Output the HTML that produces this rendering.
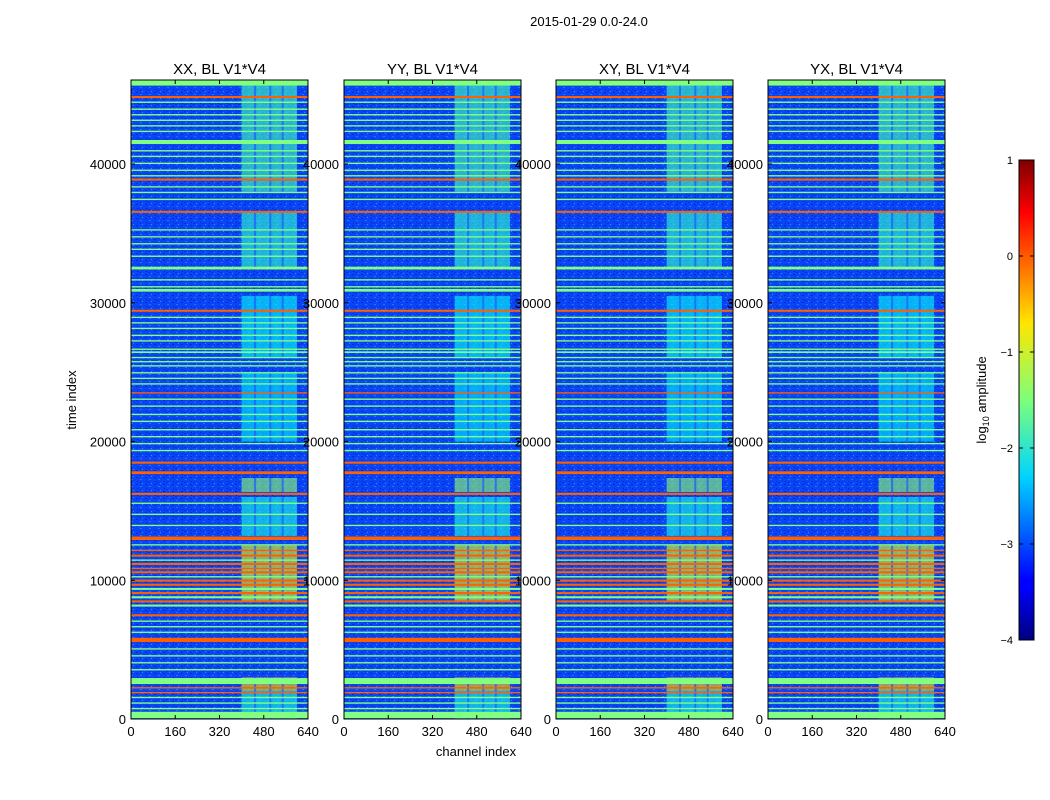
<!DOCTYPE html>
<html><head><meta charset="utf-8"><style>
body{margin:0;background:#fff;}
svg{display:block;font-family:"Liberation Sans",sans-serif;}
</style></head><body>
<svg id="fig" width="1050" height="800" xmlns="http://www.w3.org/2000/svg">
<defs>
<pattern id="noise" width="9" height="7" patternUnits="userSpaceOnUse">
<rect width="9" height="7" fill="#0a44f4"/>
<rect x="1" y="1" width="2" height="1" fill="#0028d8"/>
<rect x="5" y="3" width="2" height="1" fill="#1a78ff"/>
<rect x="2" y="5" width="1" height="1" fill="#0020c0"/>
<rect x="7" y="0" width="1" height="1" fill="#2a90ff"/>
<rect x="4" y="6" width="2" height="1" fill="#0034e0"/>
</pattern>
<linearGradient id="jet" x1="0" y1="1" x2="0" y2="0">
<stop offset="0" stop-color="#00007f"/><stop offset="0.11" stop-color="#0000ff"/>
<stop offset="0.125" stop-color="#0000ff"/><stop offset="0.34" stop-color="#00d4ff"/>
<stop offset="0.5" stop-color="#7dff7a"/><stop offset="0.66" stop-color="#ffe600"/>
<stop offset="0.89" stop-color="#ff0000"/><stop offset="1" stop-color="#7f0000"/>
</linearGradient>
</defs>
<text x="589" y="26" font-size="13" text-anchor="middle">2015-01-29 0.0-24.0</text>
<g id="panels"></g>
<text transform="translate(76,400) rotate(-90)" font-size="13" text-anchor="middle">time index</text>
<text x="476" y="756" font-size="13" text-anchor="middle">channel index</text>
<g>
<rect x="1019" y="160" width="15" height="480" fill="url(#jet)" stroke="#000" stroke-width="1"/>
<g id="cbticks"></g>
<text transform="translate(986,400) rotate(-90)" font-size="13" text-anchor="middle">log<tspan font-size="9" dy="3">10</tspan><tspan dy="-3"> amplitude</tspan></text>
</g>
</svg>
<script>
const titles=["XX, BL V1*V4","YY, BL V1*V4","XY, BL V1*V4","YX, BL V1*V4"];
const panelX=[131,344,556,768];
const xTicks=[0,160,320,480,640];
const yTicks=[0,10000,20000,30000,40000];
const cbTicks=[1,0,-1,-2,-3,-4];
// horizontal bands: start time, end time, log10 amplitude
const bandStart=[45650,44750,44400,43900,43500,43100,42700,42300,41440,40900,40500,40000,39500,39100,38800,38300,37900,37400,36480,35200,34700,34200,33800,33300,32400,31600,31100,30800,29350,28900,28500,28100,27600,27200,26600,26380,26000,25700,25400,24900,24500,24100,23450,23000,22500,21900,21400,20800,20300,19800,19300,18400,17650,16150,15500,14700,13900,12900,12500,12100,11700,11400,11100,10800,10500,10200,9900,9600,9300,9000,8700,8400,8100,7400,7000,6600,6200,5550,5000,4500,4000,3500,2520,2200,1850,1500,1100,700,60];
const bandEnd=  [46050,44900,44500,44000,43600,43200,42800,42400,41730,41000,40600,40100,39600,39200,38950,38400,38000,37500,36620,35300,34800,34300,33900,33400,32600,31700,31200,31000,29500,29000,28600,28200,27700,27300,26700,26500,26100,25800,25500,25000,24600,24200,23550,23100,22600,22000,21500,20900,20400,19900,19400,18550,17850,16300,15600,14800,14000,13150,12600,12200,11850,11500,11250,10900,10650,10300,10050,9750,9450,9150,8850,8550,8250,7550,7100,6700,6300,5850,5100,4600,4100,3600,2950,2300,1950,1600,1200,800,520];
const bandVal=  [-1.5,-0.1,-1.5,-1.5,-1.5,-1.5,-1.5,-1.5,-1.5,-1.5,-1.5,-1.5,-1.5,-1.5,-0.1,-1.5,-1.5,-1.5,-0.1,-1.5,-1.5,-1.5,-1.5,-1.5,-1.5,-1.5,-1.5,-1.5,-0.1,-1.5,-1.5,-1.5,-1.5,-1.5,-1.5,-1.5,-1.5,-1.5,-1.5,-1.5,-1.5,-1.5,-0.1,-1.5,-1.5,-1.5,-1.5,-1.5,-1.5,-1.5,-1.5,-0.1,-0.1,-0.1,-1.5,-1.5,-1.5,-0.1,-1.5,-0.1,-0.1,-1.5,-0.1,-0.1,-0.1,-1.5,-0.1,-0.1,-1.5,-0.1,-1.5,-0.1,-1.5,-0.1,-1.5,-1.5,-1.5,-0.1,-1.5,-1.5,-1.5,-1.5,-1.5,-0.1,-0.1,-1.5,-1.5,-1.5,-1.5];
// RFI region segments: time ranges and level
const rfiStart=[38000,32500,26000,20000,16360,13200,8500,2000,0];
const rfiEnd=  [46000,36500,30500,25000,17370,16000,12500,3000,2000];
const rfiVal=  [-1.8,-1.9,-2.1,-2.2,-1.4,-2.0,-1.0,-0.7,-2.0];
const rfiChanStart=400, rfiChanEnd=600;

function jet(v){const f=(v+4)/5;const c=x=>Math.round(255*Math.max(0,Math.min(1,x)));
return `rgb(${c(1.5-Math.abs(4*f-3))},${c(1.5-Math.abs(4*f-2))},${c(1.5-Math.abs(4*f-1))})`;}
const NS="http://www.w3.org/2000/svg";
function mk(tag,attrs,parent){const e=document.createElementNS(NS,tag);for(const k in attrs)e.setAttribute(k,attrs[k]);parent.appendChild(e);return e;}
const Y0=719,Y1=80,TMAX=(719-80)*40000/555,W=177;
const yS=t=>Y0-(t/TMAX)*(Y0-Y1);
const root=document.getElementById('panels');
panelX.forEach((px,i)=>{
  const xS=c=>px+c/640*W;
  const g=mk('g',{},root);
  
  
  const bg=mk('rect',{x:px,y:Y1,width:W,height:Y0-Y1,fill:'url(#noise)'},g);
  
  
  for(let k=0;k<rfiStart.length;k++){
    const r=mk('rect',{x:xS(rfiChanStart),y:yS(rfiEnd[k]),width:xS(rfiChanEnd)-xS(rfiChanStart),height:yS(rfiStart[k])-yS(rfiEnd[k]),fill:jet(rfiVal[k]),opacity:0.6},g);
    
    
    [445,500,545].forEach(c=>{mk('rect',{x:xS(c),y:yS(rfiEnd[k]),width:2,height:yS(rfiStart[k])-yS(rfiEnd[k]),fill:'#1a5cff',opacity:0.7},g);});
  }
  for(let k=0;k<bandStart.length;k++){
    const h=Math.max(1.2,yS(bandStart[k])-yS(bandEnd[k]));
    const r=mk('rect',{x:px,y:yS(bandEnd[k]),width:W,height:h,fill:jet(bandVal[k])},g);
    
    
  }
  mk('rect',{x:px,y:Y1,width:W,height:Y0-Y1,fill:'none',stroke:'#000','stroke-width':1},g);
  const t=mk('text',{x:px+W/2,y:74,'font-size':15,'text-anchor':'middle'},g);t.textContent=titles[i];
  
  
  xTicks.forEach(v=>{const x=xS(v);
    mk('line',{x1:x,x2:x,y1:Y0,y2:Y0-4,stroke:'#000'},g);mk('line',{x1:x,x2:x,y1:Y1,y2:Y1+4,stroke:'#000'},g);
    const l=mk('text',{x:x,y:Y0+17,'font-size':13,'text-anchor':'middle'},g);l.textContent=v;
    
    });
  yTicks.forEach(v=>{const y=yS(v);
    mk('line',{x1:px,x2:px+4,y1:y,y2:y,stroke:'#000'},g);mk('line',{x1:px+W,x2:px+W-4,y1:y,y2:y,stroke:'#000'},g);
    const l=mk('text',{x:px-5,y:y+5,'font-size':13,'text-anchor':'end'},g);l.textContent=v;
    
    });
});
const cb=document.getElementById('cbticks');
cbTicks.forEach(v=>{const y=160+(1-v)/5*480;
  mk('line',{x1:1019,x2:1023,y1:y,y2:y,stroke:'#000'},cb);mk('line',{x1:1030,x2:1034,y1:y,y2:y,stroke:'#000'},cb);
  const l=mk('text',{x:1013,y:y+4,'font-size':11,'text-anchor':'end'},cb);l.textContent=v<0?'\u2212'+(-v):v;
  
  });
</script>
</body></html>
